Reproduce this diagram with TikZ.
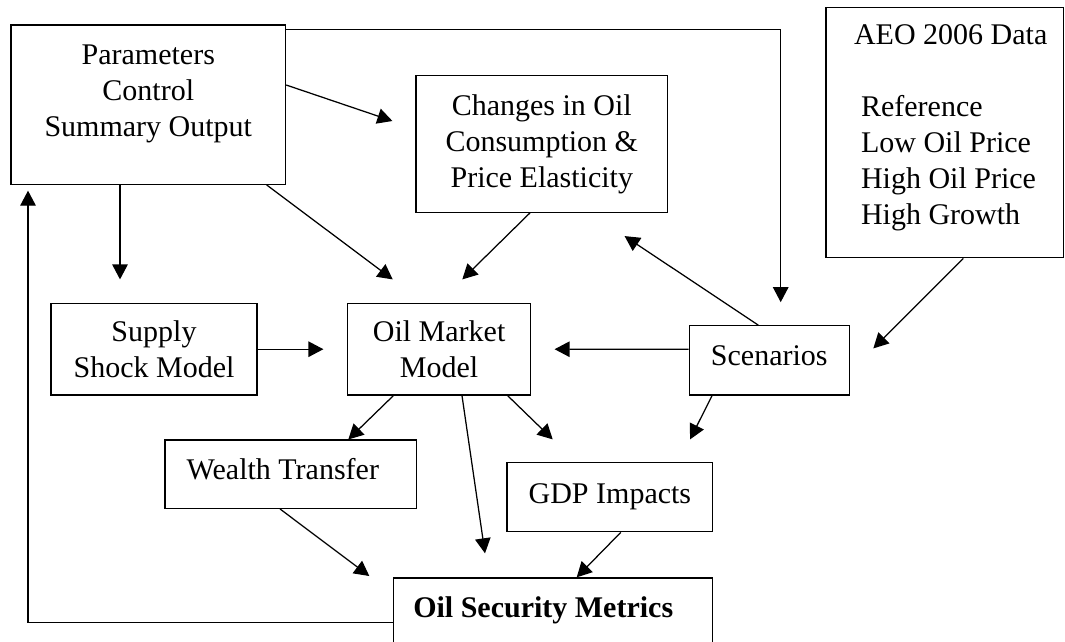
\documentclass[tikz,border=0pt]{standalone}
\usepackage{fontspec}
\setmainfont{Liberation Serif}
\usetikzlibrary{arrows.meta, calc}
\definecolor{inkColor}{RGB}{0, 0, 0}
\tikzset{
    model_box/.style={
        draw=inkColor,
        line width=0.5pt,
        text=inkColor,
        inner sep=0pt,
        align=center
    },
    list_box/.style={
        model_box,
        align=flush left
    },
    flow_edge/.style={
        -{Triangle[length=6pt, width=6.2pt]},
        line width=0.5pt,
        draw=inkColor
    }
}

\begin{document}
\begin{tikzpicture}[x=0.4pt, y=-0.4pt, font=\fontsize{12}{14.4}\selectfont]
    \useasboundingbox (0,0) rectangle (1065,641);
    \clip (0,0) rectangle (1065,641);

    \node[model_box, minimum width=109.8pt, minimum height=63.7pt] (params) at (148.3,104.7)
        {Parameters\\Control\\Summary Output\\[-3pt]\mbox{}};
    \node[model_box, minimum width=100.6pt, minimum height=54.6pt] (changes) at (541.8,144)
        {Changes in Oil\\Consumption \&\\Price Elasticity};
    \node[list_box, text width=72.6pt, inner xsep=11.2pt, minimum height=100.2pt] (aeo) at (944.8,132.5)
        {\mbox{AEO 2006 Data}\\[14.4pt]
         \mbox{\hspace*{2.8pt}Reference}\\
         \mbox{\hspace*{2.8pt}Low Oil Price}\\
         \mbox{\hspace*{2.8pt}High Oil Price}\\
         \mbox{\hspace*{2.8pt}High Growth}\\[-8pt]\mbox{}};
    \node[model_box, minimum width=82.4pt, minimum height=36.7pt] (supply) at (154,349.2)
        {Supply\\Shock Model};
    \node[model_box, minimum width=73.1pt, minimum height=36.7pt] (oilmkt) at (439.1,349.2)
        {Oil Market\\Model};
    \node[model_box, minimum width=64pt, minimum height=27.7pt, text depth=4pt] (scenarios) at (769.3,360.4)
        {Scenarios};
    \node[list_box, text width=83.2pt, inner xsep=8.7pt, minimum height=27.3pt, text depth=4pt] (wealth) at (290.7,474.2)
        {Wealth Transfer};
    \node[model_box, minimum width=82.3pt, minimum height=27.6pt] (gdp) at (609.9,497.2)
        {GDP Impacts};
    \node[list_box, anchor=north, text width=111.8pt, inner xsep=8pt, text height=15.9pt, text depth=12pt] (oilsec) at (553,577.3)
        {\textbf{Oil Security Metrics}};

    \draw[flow_edge] ($(params.east)+(0,-19.7)$) -- ($(changes.west)+(-23,-23)$);
    \draw[flow_edge] ($(params.south)+(-28.3,0)$) -- ($(supply.north)+(-34,-23.3)$);
    \draw[flow_edge] ($(params.south)+(118.4,0)$) -- ($(oilmkt.north)+(-46.4,-23.3)$);
    \draw[flow_edge] ($(params.north east)+(0,5)$) -| ($(scenarios.north)+(11.4,-23)$);
    \draw[flow_edge] ($(changes.south)+(-11.8,0)$) -- ($(oilmkt.north)+(23.2,-23.3)$);
    \draw[flow_edge] (supply.east) -- ($(oilmkt.west)+(-23.7,0)$);
    \draw[flow_edge] ($(scenarios.west)+(0,-11.1)$) -- ($(oilmkt.east)+(23.5,0)$);
    \draw[flow_edge] ($(scenarios.north)+(-11,0)$) -- ($(changes.south east)+(-43.6,23.2)$);
    \draw[flow_edge] ($(aeo.south)+(18.5,0)$) -- ($(scenarios.east)+(23.4,-12)$);
    \draw[flow_edge] ($(oilmkt.south)+(-45.8,0)$) -- ($(wealth.north)+(57.6,0)$);
    \draw[flow_edge] ($(oilmkt.south)+(22.9,0)$) -- ($(oilsec.north)+(-68,-24)$);
    \draw[flow_edge] ($(oilmkt.south)+(68.6,0)$) -- ($(gdp.north)+(-57.2,-22.7)$);
    \draw[flow_edge] ($(scenarios.south)+(-57.3,0)$) -- ($(gdp.north)+(80.2,-22.7)$);
    \draw[flow_edge] ($(wealth.south)+(-10.7,0)$) -- ($(oilsec.north west)+(-23.3,-1.3)$);
    \draw[flow_edge] ($(gdp.south)+(10.9,0)$) -- ($(oilsec.north)+(23.7,0)$);
    \draw[flow_edge] ($(oilsec.north west)+(0,45)$) -| ($(params.south west)+(17.6,5.7)$);
\end{tikzpicture}
\end{document}
